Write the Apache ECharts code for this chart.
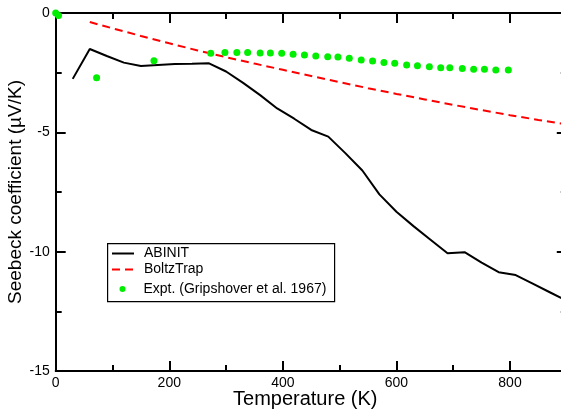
<!DOCTYPE html>
<html>
<head>
<meta charset="utf-8">
<script src="https://cdn.jsdelivr.net/npm/echarts@6/dist/echarts.min.js"></script>
<style>
html,body{margin:0;padding:0;background:#fff;}
#chart{width:561px;height:409px;}
</style>
</head>
<body>
<div id="chart"></div>
<script>
// ---- data ----
const abinitT = [30,60,90,120,150,180,210,240,270,300,330,360,390,420,450,480,510,540,570,600,630,660,690,720,750,780,810,840,870,900];
const abinitS = [-2.76,-1.51,-1.80,-2.08,-2.22,-2.18,-2.14,-2.13,-2.11,-2.45,-2.93,-3.44,-4.00,-4.43,-4.90,-5.18,-5.87,-6.60,-7.60,-8.33,-8.93,-9.50,-10.07,-10.02,-10.46,-10.86,-10.98,-11.34,-11.70,-12.06];
const boltzT = [60,100,150,200,250,300,350,400,450,500,550,600,650,700,750,800,850,900];
const boltzS = [-0.38,-0.64,-0.96,-1.27,-1.57,-1.85,-2.12,-2.38,-2.64,-2.90,-3.15,-3.39,-3.62,-3.85,-4.07,-4.28,-4.48,-4.67];
const exptT = [0,5,72,173,273,298,319,338,360,378,398,418,438,458,479,497,517,538,558,578,597,618,637,658,678,694,716,736,755,775,797];
const exptS = [0,-0.10,-2.71,-2.00,-1.69,-1.65,-1.65,-1.65,-1.68,-1.68,-1.69,-1.73,-1.76,-1.80,-1.83,-1.84,-1.90,-1.97,-2.01,-2.07,-2.11,-2.18,-2.21,-2.25,-2.29,-2.29,-2.33,-2.36,-2.36,-2.39,-2.39];
const seriesNames = ['ABINIT','BoltzTrap','Expt. (Gripshover et al. 1967)'];
const xName = 'Temperature (K)';
const yName = 'Seebeck coefficient (\u00B5V/K)';

const zip = (a,b) => a.map((v,i)=>[v,b[i]]);
const FONT = 'Liberation Sans, Arial, Helvetica, sans-serif';
const TXT = '#000';
const gridRect = {left:55.7, right:-5.8, top:13, bottom:38, containLabel:false, outerBoundsMode:'none'};

const chart = echarts.init(document.getElementById('chart'), null, {renderer:'canvas'});
const axisLine = {show:true, onZero:false, lineStyle:{color:'#000', width:2}};
const majorX = (pos, labels) => ({
  type:'value', gridIndex:0, position:pos, min:0, max:900, interval:200,
  axisLine, axisTick:{show:true, inside:true, length:10, lineStyle:{color:'#000', width:2}},
  axisLabel:{show:labels, showMaxLabel:false, margin:5, color:TXT, fontSize:14, fontFamily:FONT},
  splitLine:{show:false},
  name: labels ? xName : '', nameLocation:'middle', nameGap:18, nameMoveOverlap:false,
  nameTextStyle:{fontSize:20, color:TXT, fontFamily:FONT, padding:[0,12,0,0]}
});
const minorX = (pos) => ({
  type:'value', gridIndex:1, position:pos, min:0, max:900, interval:100,
  axisLine:{show:false, onZero:false}, axisTick:{show:true, inside:true, length:6, lineStyle:{color:'#000', width:2}},
  axisLabel:{show:false}, splitLine:{show:false}
});
const yAx = (pos, labels) => ({
  type:'value', gridIndex:0, position:pos, min:-15, max:0, interval:5,
  axisLine, axisTick:{show:true, inside:true, length:10, lineStyle:{color:'#000', width:2}},
  minorTick:{show:true, splitNumber:2, length:6, lineStyle:{color:'#000', width:2}},
  axisLabel:{show:labels, margin:6, color:TXT, fontSize:14, fontFamily:FONT},
  splitLine:{show:false}, minorSplitLine:{show:false},
  name: labels ? yName : '', nameLocation:'middle', nameGap:30, nameMoveOverlap:false,
  nameTextStyle:{fontSize:19, color:TXT, fontFamily:FONT}
});

const option = {
  backgroundColor:'#fff',
  animation:false,
  grid:[Object.assign({}, gridRect), Object.assign({}, gridRect)],
  xAxis:[majorX('bottom', true), majorX('top', false), minorX('bottom'), minorX('top')],
  yAxis:[yAx('left', true), yAx('right', false), {type:'value', gridIndex:1, min:-15, max:0, show:false, axisLine:{onZero:false}}],
  legend:[
    {data:[{name:seriesNames[0], itemStyle:{opacity:0}}, {name:seriesNames[1], itemStyle:{opacity:0}}],
     orient:'vertical', left:111, top:246.5, padding:0, itemGap:2,
     itemWidth:22, itemHeight:6, textStyle:{fontSize:14, color:TXT, fontFamily:FONT, padding:[0,0,0,5]}},
    {data:[seriesNames[2]], orient:'vertical', left:119.5, top:282, padding:0, itemGap:2,
     itemWidth:22, itemHeight:6, textStyle:{fontSize:14, color:TXT, fontFamily:FONT, padding:[0,0,0,5]}}
  ],
  graphic:[{type:'rect', left:107, top:243, shape:{width:227, height:58}, style:{fill:'transparent', stroke:'#000', lineWidth:1.2}, silent:true, z:10}],
  series:[
    {name:seriesNames[0], type:'line', xAxisIndex:0, yAxisIndex:0, data:zip(abinitT, abinitS),
     symbol:'none', showSymbol:false, lineStyle:{color:'#000', width:2}, itemStyle:{color:'#000'}, z:3},
    {name:seriesNames[1], type:'line', xAxisIndex:0, yAxisIndex:0, data:zip(boltzT, boltzS),
     symbol:'none', showSymbol:false, smooth:false,
     lineStyle:{color:'#ff0000', width:2, type:[8,5]}, itemStyle:{color:'#ff0000'}, z:3},
    {name:seriesNames[2], type:'scatter', xAxisIndex:0, yAxisIndex:0, data:zip(exptT, exptS),
     symbol:'circle', symbolSize:7, itemStyle:{color:'#00ee00', opacity:1}, z:4}
  ]
};
chart.setOption(option);
</script>
</body>
</html>
